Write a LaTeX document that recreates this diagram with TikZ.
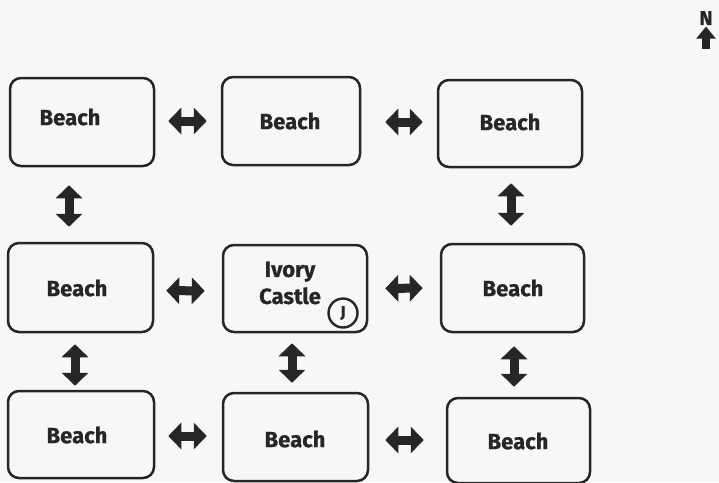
\documentclass[tikz,border=0pt]{standalone}
\usepackage{fontspec}
\setmainfont{Fira Sans}[BoldFeatures={FakeBold=0.7}]
\usetikzlibrary{arrows.meta,calc}
\begin{document}
\begin{tikzpicture}[x=1pt,y=-1pt,
  room/.style={draw=black!85, line width=2.5pt, rounded corners=11pt, inner sep=0pt},
  lbl/.style={font=\bfseries\fontsize{22}{27}\selectfont, text=black!85, align=center, inner sep=0pt},
  harr/.style={draw=black!85, line width=9pt, {Triangle[width=26pt,length=13pt]}-{Triangle[width=26pt,length=13pt]}},
  varr/.style={draw=black!85, line width=9pt, {Triangle[width=26pt,length=13pt]}-{Triangle[width=26pt,length=13pt]}}]
\useasboundingbox[fill=black!3] (0,0) rectangle (719,482);
% rooms: centre, width, height
\node[room, minimum width=144pt, minimum height=88pt] (b1) at (82,122) {};
\node[room, minimum width=138pt, minimum height=88pt] (b2) at (291,121) {};
\node[room, minimum width=144pt, minimum height=87pt] (b3) at (510,123.5) {};
\node[room, minimum width=145pt, minimum height=89pt] (b4) at (80.5,287.5) {};
\node[room, minimum width=144pt, minimum height=87pt] (b5) at (295,288.5) {};
\node[room, minimum width=143pt, minimum height=88pt] (b6) at (512.5,288) {};
\node[room, minimum width=146pt, minimum height=87pt] (b7) at (81,434.5) {};
\node[room, minimum width=145pt, minimum height=88pt] (b8) at (295.5,437) {};
\node[room, minimum width=143pt, minimum height=85pt] (b9) at (518.5,440.5) {};
% labels
\node[lbl] (t1) at (70,117) {Beach};
\node[lbl] (t2) at (290,121) {Beach};
\node[lbl] (t3) at (510,122) {Beach};
\node[lbl] (t4) at (77,288) {Beach};
\node[lbl] (t5) at (290,283) {Ivory\\Castle};
\node[lbl] (t6) at (513,288) {Beach};
\node[lbl] (t7) at (77,435) {Beach};
\node[lbl] (t8) at (295,439) {Beach};
\node[lbl] (t9) at (518,441) {Beach};
% J badge
\node[circle, draw=black!85, line width=2.4pt, minimum size=29pt, inner sep=0pt,
      font=\bfseries\fontsize{16}{16}\selectfont, text=black!85] (j) at (343,313) {J};
% horizontal connectors
\draw[harr] ($(b1.east)+(13,-1)$) -- ($(b2.west)+(-14,0)$);
\draw[harr] ($(b2.east)+(24,1)$) -- ($(b3.west)+(-14,-1.5)$);
\draw[harr] ($(b4.east)+(12,3)$) -- ($(b5.west)+(-17,2.5)$);
\draw[harr] ($(b5.east)+(17,0)$) -- ($(b6.west)+(-17,0)$);
\draw[harr] ($(b7.east)+(13,1.5)$) -- ($(b8.west)+(-15,-1)$);
\draw[harr] ($(b8.east)+(16,3)$) -- ($(b9.west)+(-22,-0.5)$);
% vertical connectors
\draw[varr] ($(b1.south)+(-13,18)$) -- ($(b4.north)+(-11.5,-15)$);
\draw[varr] ($(b4.south)+(-5.5,11)$) -- ($(b7.north)+(-6,-4)$);
\draw[varr] ($(b5.south)+(-3,10)$) -- ($(b8.north)+(-3.5,-9)$);
\draw[varr] ($(b3.south)+(1,15)$) -- ($(b6.north)+(-1.5,-17)$);
\draw[varr] ($(b6.south)+(1.5,13)$) -- ($(b9.north)+(-4.5,-10)$);
% north marker
\node[font=\bfseries\fontsize{20}{20}\selectfont, text=black!85, inner sep=0pt] (n) at (706,18) {N};
\coordinate (nb) at (706,49);
\draw[draw=black!85, line width=8pt, -{Triangle[width=19pt,length=12pt]}] (nb) -- ($(n.south)+(0,1.5)$);
\end{tikzpicture}
\end{document}
